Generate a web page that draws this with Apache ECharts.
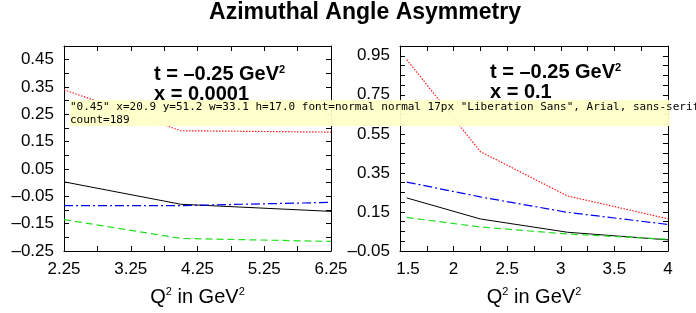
<!DOCTYPE html>
<html>
<head>
<meta charset="utf-8">
<script src="https://cdn.jsdelivr.net/npm/echarts@6/dist/echarts.min.js"></script>
<style>
  html, body { margin: 0; padding: 0; background: #fff; }
  #chart { width: 696px; height: 313px; }
  #diag { position: absolute; left: 70px; top: 100px; width: 600px; font: 11px monospace; background: rgba(255,255,200,0.95); color: #000; white-space: pre; }
</style>
</head>
<body>
<div id="chart"></div>
<div id="diag"></div>
<script>
var q2_left = [2.25, 4.0, 6.25];
var red_left = [0.34, 0.19, 0.185];
var black_left = [0.003, -0.079, -0.105];
var blue_left = [-0.084, -0.084, -0.072];
var green_left = [-0.135, -0.204, -0.215];
var q2_right = [1.5625, 2.25, 3.0625, 4.0];
var red_right = [0.93, 0.459, 0.232, 0.115];
var black_right = [0.222, 0.114, 0.046, 0.007];
var blue_right = [0.303, 0.227, 0.148, 0.086];
var green_right = [0.122, 0.073, 0.037, 0.01];
var xlab_left = [2.25, 3.25, 4.25, 5.25, 6.25];
var ylab_left = [-0.25, -0.15, -0.05, 0.05, 0.15, 0.25, 0.35, 0.45];
var xlab_right = [1.5, 2, 2.5, 3, 3.5, 4];
var ylab_right = [-0.05, 0.15, 0.35, 0.55, 0.75, 0.95];
var FONT = '"Liberation Sans", Arial, sans-serif';
function pairs(xs, ys) { var out = []; for (var i = 0; i < xs.length; i++) out.push([xs[i], ys[i]]); return out; }
function fmt(v) { var s = Math.abs(v).toFixed(2); return v < -1e-9 ? '\u2013' + s : s; }
function blank() { return ''; }
function mkAxis(grid, pos, min, max, interval, labels, labelFn, extra) {
    var a = { type: 'value', gridIndex: grid, position: pos, min: min, max: max, interval: interval,
        splitLine: { show: false },
        axisLine: { show: true, onZero: false, lineStyle: { color: '#000', width: 1 } },
        axisTick: { show: true, inside: true, length: 5, lineStyle: { color: '#000' } },
        axisLabel: labels ? { show: true, color: '#000', fontFamily: FONT, fontSize: 17, margin: 10, hideOverlap: false, customValues: labels, formatter: labelFn } : { show: false, formatter: blank } };
    if (extra) for (var k in extra) a[k] = extra[k];
    return a;
}
function xName() {
    return { name: '{n|Q}{s|2}{n| in GeV}{s|2}', nameLocation: 'middle', nameGap: 35,
        nameTextStyle: { rich: {
            n: { fontFamily: FONT, fontSize: 20, color: '#000', lineHeight: 22 },
            s: { fontFamily: FONT, fontSize: 11, color: '#000', lineHeight: 22, verticalAlign: 'top', padding: [0, 0, 11, 0] } } } };
}
var xAxes = [
    mkAxis(0, 'bottom', 2.25, 6.25, 0.5, xlab_left, function (v) { return v.toFixed(2); }, xName()),
    mkAxis(0, 'top', 2.25, 6.25, 0.5, null),
    mkAxis(1, 'bottom', 1.5, 4, 0.25, xlab_right, function (v) { return Math.abs(v - 1.5) < 1e-6 ? '{m|1.5}' : String(v); }, xName()),
    mkAxis(1, 'top', 1.5, 4, 0.25, null)
];
xAxes[2].axisLabel.rich = { m: { fontFamily: FONT, fontSize: 17, color: '#000', padding: [0, 0, 0, 16] } };
var yAxes = [
    mkAxis(0, 'left', -0.25, 0.5, 0.05, ylab_left, fmt),
    mkAxis(0, 'right', -0.25, 0.5, 0.05, null),
    mkAxis(1, 'left', -0.05, 1.0, 0.05, ylab_right, fmt),
    mkAxis(1, 'right', -0.05, 1.0, 0.05, null)
];
function line(xi, yi, data, color, type, width) {
    return { type: 'line', xAxisIndex: xi, yAxisIndex: yi, data: data, showSymbol: false, symbol: 'none', silent: true, animation: false,
        lineStyle: { color: color, width: width || 1, type: type } };
}
var RED = '#ff1a1a', BLUE = '#0000f0', GREEN = '#22e022', BLACK = '#000';
var DOT = [1.5, 1.5], DASHDOT = [9, 3, 2, 3], DASH = [7, 4];
var annRich = {
    b: { fontFamily: FONT, fontSize: 20, fontWeight: 'bold', color: '#000', lineHeight: 20 },
    s: { fontFamily: FONT, fontSize: 11, fontWeight: 'bold', color: '#000', lineHeight: 20, verticalAlign: 'top', padding: [0, 0, 11, 0] }
};
var option = {
    backgroundColor: '#fff', animation: false,
    title: [
        { text: 'Azimuthal Angle Asymmetry', left: 365, top: 1, padding: 0, textAlign: 'center', textStyle: { fontFamily: FONT, fontSize: 23, fontWeight: 'bold', color: '#000' } },
        { text: '{b|t = \u20130.25 GeV}{s|2}\n{b|x = 0.0001}', left: 154, top: 64, padding: 0, textStyle: { rich: annRich } },
        { text: '{b|t = \u20130.25 GeV}{s|2}\n{b|x = 0.1}', left: 490, top: 62, padding: 0, textStyle: { rich: annRich } }
    ],
    grid: [{ left: 64, right: 365, top: 46, bottom: 50 }, { left: 400, right: 28, top: 46, bottom: 50 }],
    xAxis: xAxes, yAxis: yAxes,
    series: [
        line(0, 0, pairs(q2_left, red_left), RED, DOT, 1.2),
        line(0, 0, pairs(q2_left, black_left), BLACK, 'solid', 1),
        line(0, 0, pairs(q2_left, blue_left), BLUE, DASHDOT, 1.2),
        line(0, 0, pairs(q2_left, green_left), GREEN, DASH, 1.2),
        line(2, 2, pairs(q2_right, red_right), RED, DOT, 1.2),
        line(2, 2, pairs(q2_right, black_right), BLACK, 'solid', 1),
        line(2, 2, pairs(q2_right, blue_right), BLUE, DASHDOT, 1.2),
        line(2, 2, pairs(q2_right, green_right), GREEN, DASH, 1.2)
    ]
};
var chart = echarts.init(document.getElementById('chart'), null, { renderer: 'canvas' });
chart.setOption(option);
var out = [];
try {
    var list = chart.getZr().storage.getDisplayList(true);
    list.forEach(function (el) {
        var t = el.style && el.style.text;
        if (t == null) return;
        var r = el.getBoundingRect().clone();
        if (el.transform) r.applyTransform(el.transform);
        if (r.x < 70 && r.y < 56) {
            var chain = [];
            var p = el.parent; var n = 0;
            while (p && n < 6) { chain.push((p.type || '') + ':' + (p.name || '')); p = p.parent; n++; }
            out.push(JSON.stringify(String(t)) + ' x=' + r.x.toFixed(1) + ' y=' + r.y.toFixed(1) + ' w=' + r.width.toFixed(1) + ' h=' + r.height.toFixed(1) + ' font=' + (el.style.font || el.style.fontSize) + ' z=' + el.z + ' z2=' + el.z2 + ' anc=' + chain.join('>') + ' ei=' + JSON.stringify(el.__ecInner || null));
        }
    });
    out.push('count=' + list.length);
} catch (e) { out.push('ERR ' + e.message); }
document.getElementById('diag').textContent = out.join('\n');
</script>
</body>
</html>
